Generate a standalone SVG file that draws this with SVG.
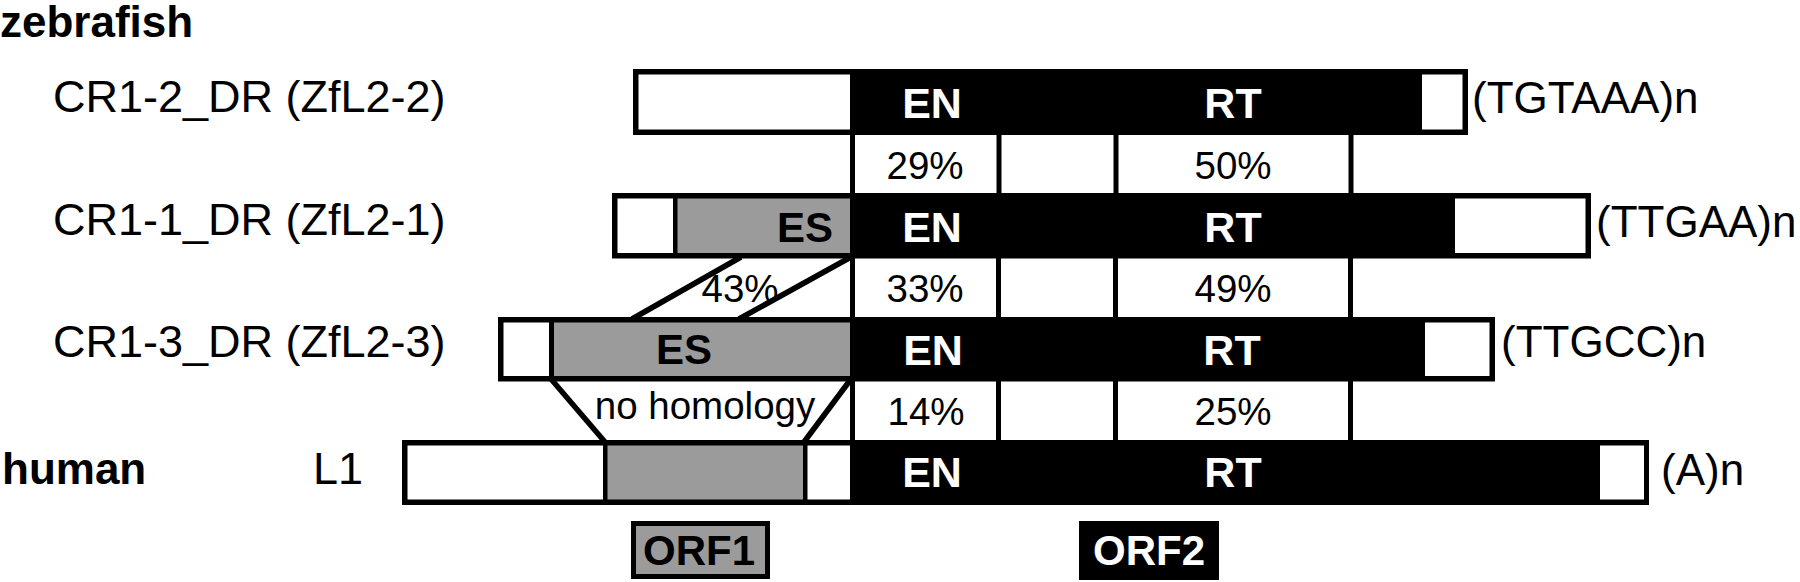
<svg xmlns="http://www.w3.org/2000/svg" width="1800" height="582" viewBox="0 0 1800 582">
<style>
text{font-family:"Liberation Sans",Arial,Helvetica,sans-serif;fill:#000}
.lab{font-size:44px}
.row{font-size:45px}
.hd{font-size:44px;font-weight:bold}
.dom{font-size:43px;font-weight:bold;fill:#fff;text-anchor:middle}
.es{font-size:42px;font-weight:bold}
.pc{font-size:38.5px;text-anchor:middle}
.blk{fill:#000}
.wh{fill:#fff}
.gr{fill:#9b9b9b}
.ln{stroke:#000;stroke-width:5.5;fill:none}
</style>
<rect width="1800" height="582" fill="#fff"/>
<g id="titles">
<text class="hd" x="0" y="37">zebrafish</text>
<text class="hd" x="2" y="484">human</text>
</g>
<g id="connectors">
<rect class="blk" x="850" y="133" width="5" height="62"/>
<rect class="blk" x="996.5" y="133" width="5" height="62"/>
<rect class="blk" x="1113.5" y="133" width="5" height="62"/>
<rect class="blk" x="1348.5" y="133" width="5" height="62"/>
<rect class="blk" x="850" y="256" width="5" height="63"/>
<rect class="blk" x="996" y="256" width="5" height="63"/>
<rect class="blk" x="1113" y="256" width="5" height="63"/>
<rect class="blk" x="1348" y="256" width="5" height="63"/>
<rect class="blk" x="850" y="379" width="5" height="63"/>
<rect class="blk" x="996" y="379" width="5" height="63"/>
<rect class="blk" x="1113" y="379" width="5" height="63"/>
<rect class="blk" x="1348" y="379" width="5" height="63"/>
<line class="ln" x1="741" y1="257" x2="632" y2="319"/>
<line class="ln" x1="851" y1="257" x2="739" y2="319"/>
<line class="ln" x1="551" y1="379" x2="605" y2="442"/>
<line class="ln" x1="851" y1="379" x2="804" y2="442"/>
<text class="pc" x="740" y="302">43%</text>
<text class="pc" x="705" y="419">no homology</text>
<text class="pc" x="925" y="179">29%</text>
<text class="pc" x="1233" y="179">50%</text>
<text class="pc" x="925" y="302">33%</text>
<text class="pc" x="1233" y="302">49%</text>
<text class="pc" x="926" y="425">14%</text>
<text class="pc" x="1233" y="425">25%</text>
</g>
<g id="cr1-2">
<rect class="blk" x="633" y="69" width="835" height="66"/>
<rect class="wh" x="638.5" y="74.5" width="211.5" height="55"/>
<rect class="wh" x="1422" y="74.5" width="40.5" height="55"/>
<text class="dom" x="932" y="118">EN</text>
<text class="dom" x="1233" y="118">RT</text>
<text class="row" x="53" y="112">CR1-2_DR (ZfL2-2)</text>
<text class="lab" x="1472" y="113">(TGTAAA)n</text>
</g>
<g id="cr1-1">
<rect class="blk" x="612" y="193" width="979" height="65.5"/>
<rect class="wh" x="617.5" y="198.5" width="55.5" height="54.5"/>
<rect class="gr" x="677.5" y="198.5" width="172.5" height="54.5"/>
<rect class="wh" x="1455" y="198.5" width="130.5" height="54.5"/>
<text class="es" x="833" y="242" text-anchor="end">ES</text>
<text class="dom" x="932" y="242">EN</text>
<text class="dom" x="1233" y="242">RT</text>
<text class="row" x="53" y="235">CR1-1_DR (ZfL2-1)</text>
<text class="lab" x="1596" y="237">(TTGAA)n</text>
</g>
<g id="cr1-3">
<rect class="blk" x="498" y="317" width="997" height="64.5"/>
<rect class="wh" x="503.5" y="322.5" width="45.5" height="53.5"/>
<rect class="gr" x="554" y="322.5" width="296" height="53.5"/>
<rect class="wh" x="1425" y="322.5" width="64.5" height="53.5"/>
<text class="es" x="684" y="364" text-anchor="middle">ES</text>
<text class="dom" x="933" y="365">EN</text>
<text class="dom" x="1232" y="365">RT</text>
<text class="row" x="53" y="357">CR1-3_DR (ZfL2-3)</text>
<text class="lab" x="1501" y="357">(TTGCC)n</text>
</g>
<g id="l1">
<rect class="blk" x="402" y="440" width="1247" height="65"/>
<rect class="wh" x="407.5" y="445.5" width="195.5" height="54"/>
<rect class="gr" x="607.5" y="445.5" width="195.5" height="54"/>
<rect class="wh" x="807.5" y="445.5" width="42.5" height="54"/>
<rect class="wh" x="1600" y="445.5" width="44" height="54"/>
<text class="dom" x="932" y="487">EN</text>
<text class="dom" x="1233" y="487">RT</text>
<text class="row" x="313" y="484">L1</text>
<text class="lab" x="1661" y="485">(A)n</text>
</g>
<g id="orf1">
<rect class="blk" x="631" y="521" width="139" height="58"/>
<rect class="gr" x="636" y="526" width="129" height="48"/>
<text class="es" x="699" y="565" text-anchor="middle">ORF1</text>
</g>
<g id="orf2">
<rect class="blk" x="1079" y="521" width="140" height="59"/>
<text class="dom" x="1149" y="565" style="font-size:42px">ORF2</text>
</g>
</svg>
